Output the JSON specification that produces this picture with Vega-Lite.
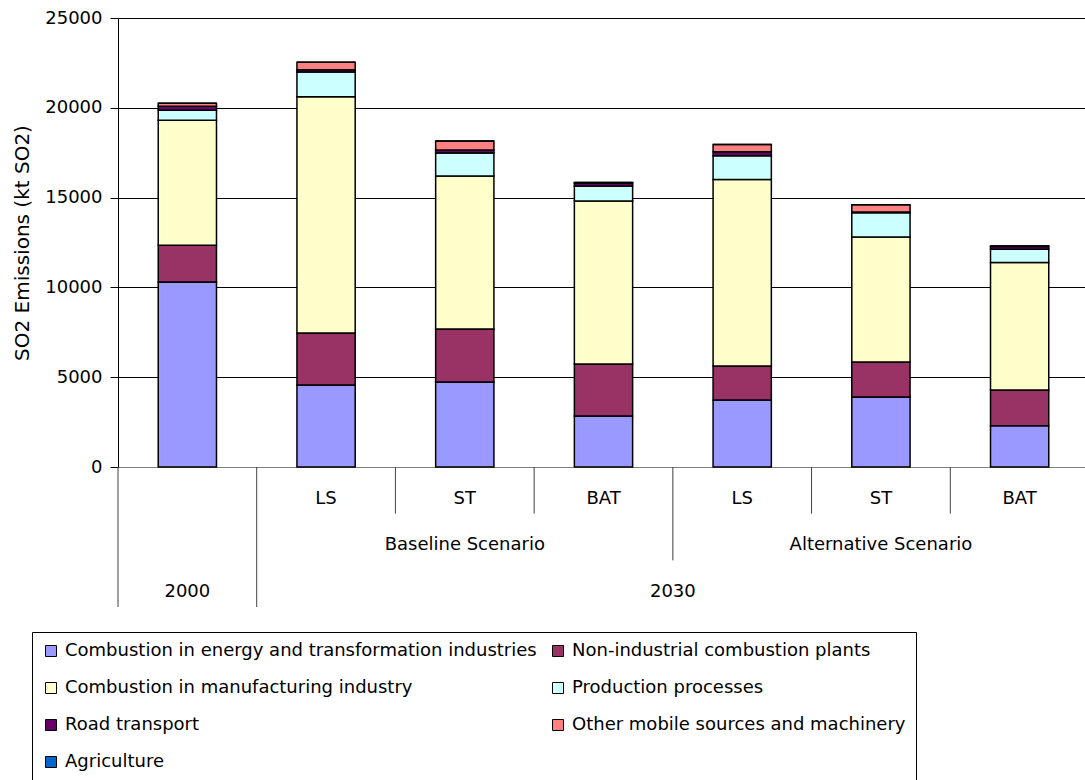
{
  "$schema": "https://vega.github.io/schema/vega-lite/v6.json",
  "background": "white",
  "padding": {"left": 12, "top": 9, "right": 0, "bottom": 0},
  "spacing": 0,
  "bounds": "flush",
  "config": {
    "view": {"stroke": null},
    "font": "DejaVu Sans"
  },
  "datasets": {
    "sources": [
      {"source": "Combustion in energy and transformation industries", "k": 1},
      {"source": "Non-industrial combustion plants", "k": 2},
      {"source": "Combustion in manufacturing industry", "k": 3},
      {"source": "Production processes", "k": 4},
      {"source": "Road transport", "k": 5},
      {"source": "Other mobile sources and machinery", "k": 6},
      {"source": "Agriculture", "k": 7}
    ],
    "emis": [
      {"cat": "2000", "source": "Combustion in energy and transformation industries", "value": 10300},
      {"cat": "2000", "source": "Non-industrial combustion plants", "value": 2050},
      {"cat": "2000", "source": "Combustion in manufacturing industry", "value": 6950},
      {"cat": "2000", "source": "Production processes", "value": 560},
      {"cat": "2000", "source": "Road transport", "value": 220},
      {"cat": "2000", "source": "Other mobile sources and machinery", "value": 170},
      {"cat": "2000", "source": "Agriculture", "value": 0},
      {"cat": "Baseline LS", "source": "Combustion in energy and transformation industries", "value": 4570},
      {"cat": "Baseline LS", "source": "Non-industrial combustion plants", "value": 2890},
      {"cat": "Baseline LS", "source": "Combustion in manufacturing industry", "value": 13160},
      {"cat": "Baseline LS", "source": "Production processes", "value": 1375},
      {"cat": "Baseline LS", "source": "Road transport", "value": 120},
      {"cat": "Baseline LS", "source": "Other mobile sources and machinery", "value": 420},
      {"cat": "Baseline LS", "source": "Agriculture", "value": 0},
      {"cat": "Baseline ST", "source": "Combustion in energy and transformation industries", "value": 4730},
      {"cat": "Baseline ST", "source": "Non-industrial combustion plants", "value": 2950},
      {"cat": "Baseline ST", "source": "Combustion in manufacturing industry", "value": 8520},
      {"cat": "Baseline ST", "source": "Production processes", "value": 1280},
      {"cat": "Baseline ST", "source": "Road transport", "value": 170},
      {"cat": "Baseline ST", "source": "Other mobile sources and machinery", "value": 500},
      {"cat": "Baseline ST", "source": "Agriculture", "value": 0},
      {"cat": "Baseline BAT", "source": "Combustion in energy and transformation industries", "value": 2840},
      {"cat": "Baseline BAT", "source": "Non-industrial combustion plants", "value": 2900},
      {"cat": "Baseline BAT", "source": "Combustion in manufacturing industry", "value": 9070},
      {"cat": "Baseline BAT", "source": "Production processes", "value": 830},
      {"cat": "Baseline BAT", "source": "Road transport", "value": 170},
      {"cat": "Baseline BAT", "source": "Other mobile sources and machinery", "value": 30},
      {"cat": "Baseline BAT", "source": "Agriculture", "value": 0},
      {"cat": "Alternative LS", "source": "Combustion in energy and transformation industries", "value": 3730},
      {"cat": "Alternative LS", "source": "Non-industrial combustion plants", "value": 1890},
      {"cat": "Alternative LS", "source": "Combustion in manufacturing industry", "value": 10390},
      {"cat": "Alternative LS", "source": "Production processes", "value": 1325},
      {"cat": "Alternative LS", "source": "Road transport", "value": 220},
      {"cat": "Alternative LS", "source": "Other mobile sources and machinery", "value": 400},
      {"cat": "Alternative LS", "source": "Agriculture", "value": 0},
      {"cat": "Alternative ST", "source": "Combustion in energy and transformation industries", "value": 3900},
      {"cat": "Alternative ST", "source": "Non-industrial combustion plants", "value": 1950},
      {"cat": "Alternative ST", "source": "Combustion in manufacturing industry", "value": 6960},
      {"cat": "Alternative ST", "source": "Production processes", "value": 1350},
      {"cat": "Alternative ST", "source": "Road transport", "value": 40},
      {"cat": "Alternative ST", "source": "Other mobile sources and machinery", "value": 400},
      {"cat": "Alternative ST", "source": "Agriculture", "value": 0},
      {"cat": "Alternative BAT", "source": "Combustion in energy and transformation industries", "value": 2290},
      {"cat": "Alternative BAT", "source": "Non-industrial combustion plants", "value": 2000},
      {"cat": "Alternative BAT", "source": "Combustion in manufacturing industry", "value": 7090},
      {"cat": "Alternative BAT", "source": "Production processes", "value": 745},
      {"cat": "Alternative BAT", "source": "Road transport", "value": 150},
      {"cat": "Alternative BAT", "source": "Other mobile sources and machinery", "value": 30},
      {"cat": "Alternative BAT", "source": "Agriculture", "value": 0}
    ],
    "labels": [
      {"cat": "Baseline LS", "text": "LS", "level": 1},
      {"cat": "Baseline ST", "text": "ST", "level": 1},
      {"cat": "Baseline BAT", "text": "BAT", "level": 1},
      {"cat": "Alternative LS", "text": "LS", "level": 1},
      {"cat": "Alternative ST", "text": "ST", "level": 1},
      {"cat": "Alternative BAT", "text": "BAT", "level": 1},
      {"cat": "Baseline ST", "text": "Baseline Scenario", "level": 2},
      {"cat": "Alternative ST", "text": "Alternative Scenario", "level": 2},
      {"cat": "2000", "text": "2000", "level": 3}
    ],
    "edge": [
      {"cat": "Baseline BAT", "text": "2030", "level": 3}
    ],
    "seps": [
      {"cat": "2000", "top": 0, "depth": 3},
      {"cat": "Baseline LS", "top": 0, "depth": 3},
      {"cat": "Baseline ST", "top": 0, "depth": 1},
      {"cat": "Baseline BAT", "top": 0, "depth": 1},
      {"cat": "Alternative LS", "top": 0, "depth": 2},
      {"cat": "Alternative ST", "top": 0, "depth": 1},
      {"cat": "Alternative BAT", "top": 0, "depth": 1}
    ]
  },
  "resolve": {"scale": {"x": "independent", "y": "independent"}},
  "vconcat": [
    {
      "width": 971,
      "height": 449,
      "data": {"name": "emis"},
      "transform": [
        {"lookup": "source", "from": {"data": {"name": "sources"}, "key": "source", "fields": ["k"]}}
      ],
      "mark": {"type": "bar", "stroke": "black", "strokeWidth": 1.5},
      "encoding": {
        "x": {
          "field": "cat", "type": "nominal",
          "sort": ["2000", "Baseline LS", "Baseline ST", "Baseline BAT", "Alternative LS", "Alternative ST", "Alternative BAT"],
          "scale": {"paddingInner": 0.58, "paddingOuter": 0.29},
          "axis": {"labels": false, "ticks": false, "title": null, "grid": false, "domainColor": "#808080", "domainWidth": 1}
        },
        "y": {
          "field": "value", "type": "quantitative", "stack": "zero",
          "scale": {"domain": [0, 25000], "nice": false},
          "axis": {
            "values": [0, 5000, 10000, 15000, 20000, 25000],
            "format": "d",
            "title": "SO2 Emissions (kt SO2)",
            "titleFontSize": 20, "titleFontWeight": "normal", "titleColor": "black", "titleFont": "DejaVu Sans",
            "titlePadding": 12,
            "labelFontSize": 18, "labelColor": "black", "labelFont": "DejaVu Sans", "labelPadding": 8,
            "tickSize": 8, "tickColor": "#000", "domainColor": "#000",
            "grid": true, "gridColor": "#000", "gridWidth": 1
          }
        },
        "order": {"field": "k", "type": "quantitative", "sort": "ascending"},
        "color": {
          "field": "source", "type": "nominal",
          "scale": {
            "domain": ["Combustion in energy and transformation industries", "Non-industrial combustion plants", "Combustion in manufacturing industry", "Production processes", "Road transport", "Other mobile sources and machinery", "Agriculture"],
            "range": ["#9999FF", "#993366", "#FFFFCC", "#CCFFFF", "#660066", "#FF8080", "#0066CC"]
          },
          "legend": {
            "orient": "none", "legendX": -86, "legendY": 614,
            "direction": "horizontal", "columns": 2,
            "title": null, "symbolType": "square", "symbolSize": 121,
            "symbolStrokeColor": "black", "symbolStrokeWidth": 1,
            "labelFontSize": 18, "labelFont": "DejaVu Sans", "labelColor": "black", "labelLimit": 0, "labelOffset": 5,
            "rowPadding": 19, "columnPadding": 12, "padding": 10,
            "strokeColor": "black"
          }
        }
      }
    },
    {
      "width": 971,
      "height": 140,
      "encoding": {
        "x": {"field": "cat", "type": "nominal",
          "scale": {"domain": ["2000", "Baseline LS", "Baseline ST", "Baseline BAT", "Alternative LS", "Alternative ST", "Alternative BAT"], "paddingInner": 0, "paddingOuter": 0},
          "axis": null}
      },
      "layer": [
        {
          "data": {"name": "seps"},
          "mark": {"type": "rule", "color": "#404040", "strokeWidth": 1},
          "encoding": {
            "x": {"field": "cat", "type": "nominal", "bandPosition": 0, "axis": null},
            "y": {"field": "top", "type": "quantitative", "scale": {"domain": [0, 3], "reverse": true, "nice": false}, "axis": null},
            "y2": {"field": "depth"}
          }
        },
        {
          "data": {"name": "labels"},
          "mark": {"type": "text", "fontSize": 18, "color": "black", "baseline": "middle", "dy": -15, "font": "DejaVu Sans"},
          "encoding": {
            "y": {"field": "level", "type": "quantitative", "axis": null},
            "text": {"field": "text"}
          }
        },
        {
          "data": {"name": "edge"},
          "mark": {"type": "text", "fontSize": 18, "color": "black", "baseline": "middle", "dy": -15, "font": "DejaVu Sans"},
          "encoding": {
            "x": {"field": "cat", "type": "nominal", "bandPosition": 1, "axis": null},
            "y": {"field": "level", "type": "quantitative", "axis": null},
            "text": {"field": "text"}
          }
        }
      ]
    }
  ]
}
